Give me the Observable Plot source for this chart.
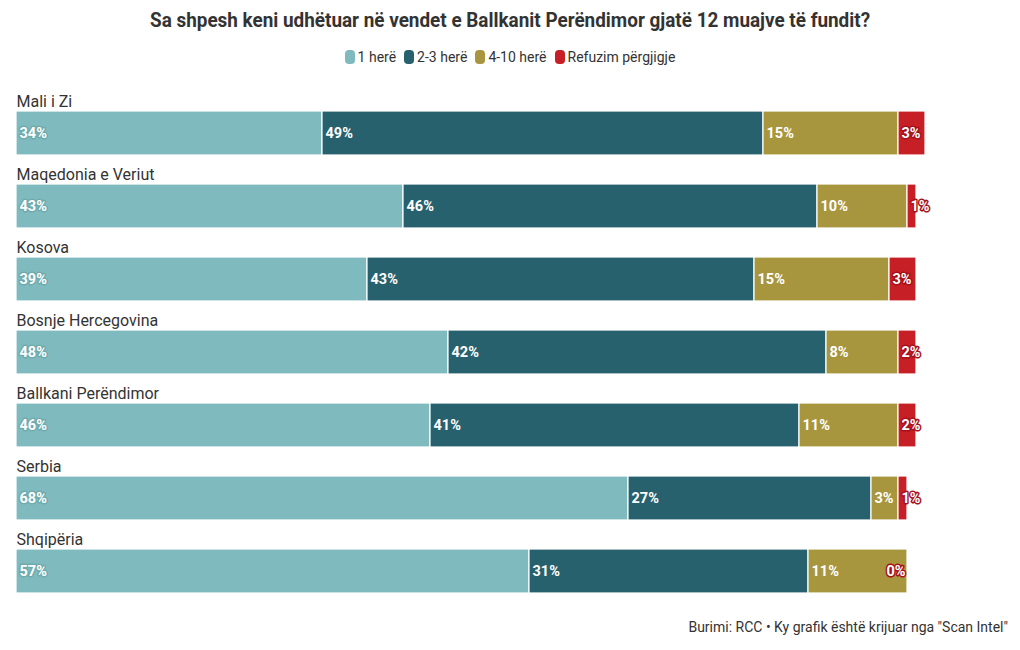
<!DOCTYPE html>
<html>
<head>
<meta charset="utf-8">
<script src="https://cdn.jsdelivr.net/npm/d3@7"></script>
<script src="https://cdn.jsdelivr.net/npm/@observablehq/plot@0.6"></script>
<style>
  html, body { margin: 0; padding: 0; background: #fff; }
  body { width: 1020px; height: 650px; position: relative; overflow: hidden;
         font-family: Roboto, "Liberation Sans", sans-serif; color: #333; }
  #title { position: absolute; top: 8px; left: 0; width: 1020px; text-align: center;
           font-size: 21px; font-weight: bold; color: #333; }
  #title span { display: inline-block; transform: scaleX(0.9); transform-origin: 50% 50%; white-space: nowrap; }
  #legend { position: absolute; top: 49px; left: 0; width: 1020px; display: flex; justify-content: center;
            font-size: 14px; color: #333; gap: 8px; }
  #legend .item { display: flex; align-items: center; gap: 3px; }
  #legend .sw { width: 10px; height: 14px; border-radius: 4px; display: inline-block; }
  #chart { position: absolute; top: 74px; left: 0; }
  #caption { position: absolute; top: 619px; right: 12px; font-size: 14px; color: #333; }
</style>
</head>
<body>
<div id="title"><span></span></div>
<div id="legend"></div>
<div id="chart"></div>
<div id="caption"></div>
<script>
const titleText = "Sa shpesh keni udhëtuar në vendet e Ballkanit Perëndimor gjatë 12 muajve të fundit?";
const captionText = "Burimi: RCC • Ky grafik është krijuar nga \"Scan Intel\"";
const categories = ["Mali i Zi", "Maqedonia e Veriut", "Kosova", "Bosnje Hercegovina", "Ballkani Perëndimor", "Serbia", "Shqipëria"];
const series = ["1 herë", "2-3 herë", "4-10 herë", "Refuzim përgjigje"];
const seriesColors = ["#7fbbbe", "#28616e", "#a8963e", "#c71f26"];
const haloColors = ["#6fabae", "#28616e", "#a8963e", "#a8101a"];
const once = [34, 43, 39, 48, 46, 68, 57];
const twoThree = [49, 46, 43, 42, 41, 27, 31];
const fourTen = [15, 10, 15, 8, 11, 3, 11];
const refused = [3, 1, 3, 2, 2, 1, 0];
const values = [once, twoThree, fourTen, refused];

// Build long table with stack positions
const rows = [];
categories.forEach((c, i) => {
  let acc = 0;
  series.forEach((s, j) => {
    const v = values[j][i];
    rows.push({category: c, series: s, value: v, start: acc, end: acc + v, label: v + "%"});
    acc += v;
  });
});

document.querySelector("#title span").textContent = titleText;
document.getElementById("caption").textContent = captionText;
const legend = document.getElementById("legend");
series.forEach((s, j) => {
  const it = document.createElement("div");
  it.className = "item";
  const sw = document.createElement("span");
  sw.className = "sw";
  sw.style.background = seriesColors[j];
  const tx = document.createElement("span");
  tx.textContent = s;
  it.appendChild(sw); it.appendChild(tx);
  legend.appendChild(it);
});

const fontFam = "Roboto, 'Liberation Sans', sans-serif";

const labelMarks = series.map((s, j) => [
  Plot.text(rows.filter(d => d.series === s && d.value > 0), {
    x: "start", y: "category", text: "label", textAnchor: "start", dx: 3,
    fill: "white", stroke: haloColors[j], strokeWidth: 3, fontSize: 14.5, fontWeight: "bold"
  }),
  Plot.text(rows.filter(d => d.series === s && d.value === 0), {
    x: "end", y: "category", text: "label", textAnchor: "end", dx: -2,
    fill: "white", stroke: haloColors[j], strokeWidth: 3, fontSize: 14.5, fontWeight: "bold"
  })
]).flat();

const chart = Plot.plot({
  width: 1020,
  height: 540,
  marginLeft: 16,
  marginRight: 104,
  marginTop: 35,
  marginBottom: 20,
  style: {fontFamily: fontFam, background: "white"},
  x: {domain: [0, 100], axis: null},
  y: {domain: categories, axis: null, paddingInner: 0.4, paddingOuter: 0},
  color: {domain: series, range: seriesColors},
  marks: [
    Plot.barX(rows, {x1: "start", x2: "end", y: "category", fill: "series", stroke: "white", strokeWidth: 1.2}),
    ...labelMarks,
    Plot.text(categories, {
      x: 0, y: d => d, text: d => d, textAnchor: "start", dy: -32,
      fill: "#333", fontSize: 16
    })
  ]
});
document.getElementById("chart").appendChild(chart);
</script>
</body>
</html>
